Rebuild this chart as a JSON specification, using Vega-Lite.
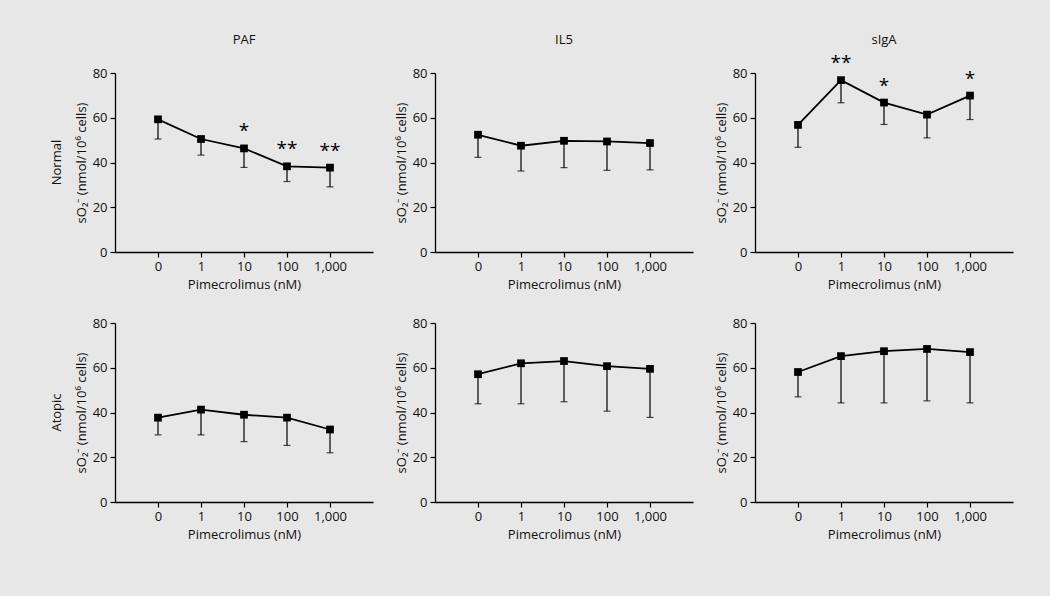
{
  "$schema": "https://vega.github.io/schema/vega-lite/v6.json",
  "background": "#e7e7e7",
  "padding": {"left": 51, "top": 34, "right": 40, "bottom": 55},
  "data": {"values": [
    {"stim": "PAF", "group": "Normal", "dose": "0", "value": 59.3, "low": 50.5, "sig": ""},
    {"stim": "PAF", "group": "Normal", "dose": "1", "value": 50.5, "low": 43.3, "sig": ""},
    {"stim": "PAF", "group": "Normal", "dose": "10", "value": 46.3, "low": 37.8, "sig": "*"},
    {"stim": "PAF", "group": "Normal", "dose": "100", "value": 38.3, "low": 31.5, "sig": "**"},
    {"stim": "PAF", "group": "Normal", "dose": "1,000", "value": 37.7, "low": 29.1, "sig": "**"},
    {"stim": "IL5", "group": "Normal", "dose": "0", "value": 52.4, "low": 42.3, "sig": ""},
    {"stim": "IL5", "group": "Normal", "dose": "1", "value": 47.5, "low": 36.2, "sig": ""},
    {"stim": "IL5", "group": "Normal", "dose": "10", "value": 49.7, "low": 37.7, "sig": ""},
    {"stim": "IL5", "group": "Normal", "dose": "100", "value": 49.4, "low": 36.5, "sig": ""},
    {"stim": "IL5", "group": "Normal", "dose": "1,000", "value": 48.7, "low": 36.7, "sig": ""},
    {"stim": "sIgA", "group": "Normal", "dose": "0", "value": 56.8, "low": 46.8, "sig": ""},
    {"stim": "sIgA", "group": "Normal", "dose": "1", "value": 76.8, "low": 66.7, "sig": "**"},
    {"stim": "sIgA", "group": "Normal", "dose": "10", "value": 66.8, "low": 57.0, "sig": "*"},
    {"stim": "sIgA", "group": "Normal", "dose": "100", "value": 61.4, "low": 51.0, "sig": ""},
    {"stim": "sIgA", "group": "Normal", "dose": "1,000", "value": 69.9, "low": 59.2, "sig": "*"},
    {"stim": "PAF", "group": "Atopic", "dose": "0", "value": 37.7, "low": 30.0, "sig": ""},
    {"stim": "PAF", "group": "Atopic", "dose": "1", "value": 41.3, "low": 30.0, "sig": ""},
    {"stim": "PAF", "group": "Atopic", "dose": "10", "value": 39.0, "low": 27.0, "sig": ""},
    {"stim": "PAF", "group": "Atopic", "dose": "100", "value": 37.7, "low": 25.3, "sig": ""},
    {"stim": "PAF", "group": "Atopic", "dose": "1,000", "value": 32.4, "low": 22.0, "sig": ""},
    {"stim": "IL5", "group": "Atopic", "dose": "0", "value": 57.1, "low": 43.9, "sig": ""},
    {"stim": "IL5", "group": "Atopic", "dose": "1", "value": 62.0, "low": 43.9, "sig": ""},
    {"stim": "IL5", "group": "Atopic", "dose": "10", "value": 63.0, "low": 44.8, "sig": ""},
    {"stim": "IL5", "group": "Atopic", "dose": "100", "value": 60.7, "low": 40.6, "sig": ""},
    {"stim": "IL5", "group": "Atopic", "dose": "1,000", "value": 59.5, "low": 37.8, "sig": ""},
    {"stim": "sIgA", "group": "Atopic", "dose": "0", "value": 58.1, "low": 47.0, "sig": ""},
    {"stim": "sIgA", "group": "Atopic", "dose": "1", "value": 65.2, "low": 44.3, "sig": ""},
    {"stim": "sIgA", "group": "Atopic", "dose": "10", "value": 67.4, "low": 44.3, "sig": ""},
    {"stim": "sIgA", "group": "Atopic", "dose": "100", "value": 68.4, "low": 45.2, "sig": ""},
    {"stim": "sIgA", "group": "Atopic", "dose": "1,000", "value": 67.0, "low": 44.3, "sig": ""}
  ]},
  "facet": {
    "row": {"field": "group", "type": "nominal", "sort": ["Normal", "Atopic"],
      "header": {"title": null, "labelAngle": -90, "labelOrient": "left", "labelFontSize": 13, "labelPadding": 5, "labelColor": "#111"}},
    "column": {"field": "stim", "type": "nominal", "sort": ["PAF", "IL5", "sIgA"],
      "header": {"title": null, "labelOrient": "top", "labelFontSize": 13, "labelPadding": 7, "labelColor": "#111"}}
  },
  "spacing": {"row": 26, "column": 22},
  "resolve": {"axis": {"x": "independent", "y": "independent"}},
  "spec": {
    "width": 258,
    "height": 179,
    "encoding": {
      "x": {"field": "dose", "type": "ordinal", "sort": ["0", "1", "10", "100", "1,000"],
        "scale": {"type": "point", "padding": 1},
        "axis": {"title": "Pimecrolimus (nM)", "labelAngle": 0, "tickSize": 5, "labelPadding": 3, "titlePadding": 5}},
      "y": {"field": "value", "type": "quantitative", "scale": {"domain": [0, 80]},
        "axis": {"title": "sO₂⁻ (nmol/10⁶ cells)", "values": [0, 20, 40, 60, 80], "tickSize": 5, "labelPadding": 3, "titlePadding": 4, "grid": false}}
    },
    "layer": [
      {"mark": {"type": "rule", "color": "black", "strokeWidth": 1.2}, "encoding": {"y2": {"field": "low"}}},
      {"mark": {"type": "tick", "orient": "horizontal", "color": "black", "size": 7, "thickness": 1.2}, "encoding": {"y": {"field": "low", "type": "quantitative"}}},
      {"mark": {"type": "line", "color": "black", "strokeWidth": 1.8}},
      {"mark": {"type": "point", "shape": "square", "filled": true, "color": "black", "size": 60, "opacity": 1}},
      {"mark": {"type": "text", "color": "black", "fontSize": 19, "dy": -7, "baseline": "bottom"}, "encoding": {"text": {"field": "sig"}}}
    ]
  },
  "config": {
    "font": "Open Sans",
    "view": {"stroke": null},
    "axis": {"domainColor": "black", "tickColor": "black", "labelColor": "#111", "titleColor": "#111", "labelFontSize": 13, "titleFontSize": 13, "titleFontWeight": 500, "domainWidth": 1.3, "tickWidth": 1.2}
  }
}
